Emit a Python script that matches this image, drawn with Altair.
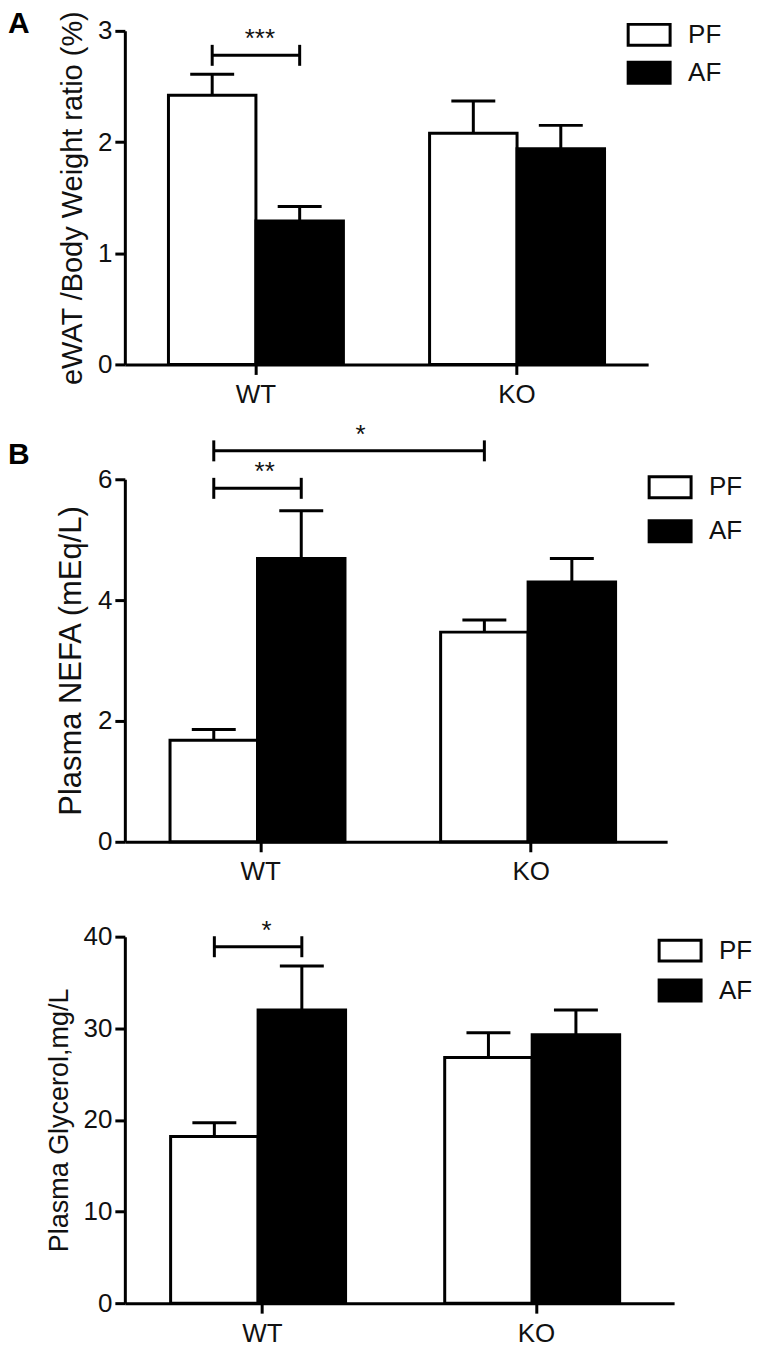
import altair as alt
import pandas as pd

FONT = "Liberation Sans"

groups = ["WT", "KO"]
treatments = ["PF", "AF"]

# Panel A: eWAT / body weight ratio (%)
a_pf_mean = [2.42, 2.08]
a_pf_sem = [0.19, 0.29]
a_af_mean = [1.29, 1.94]
a_af_sem = [0.13, 0.21]
a_brackets = [("WT", "PF", "WT", "AF", 2.78, "***")]

# Panel B: Plasma NEFA (mEq/L)
b_pf_mean = [1.68, 3.47]
b_pf_sem = [0.18, 0.20]
b_af_mean = [4.69, 4.30]
b_af_sem = [0.79, 0.39]
b_brackets = [("WT", "PF", "WT", "AF", 5.85, "**"),
              ("WT", "PF", "KO", "PF", 6.47, "*")]

# Panel C: Plasma Glycerol, mg/L
c_pf_mean = [18.2, 26.8]
c_pf_sem = [1.5, 2.7]
c_af_mean = [32.0, 29.3]
c_af_sem = [4.8, 2.7]
c_brackets = [("WT", "PF", "WT", "AF", 38.9, "*")]


def panel(pf_mean, pf_sem, af_mean, af_sem, brackets, ymax, yticks, ytitle, tsize,
          width, height, lx, ly, lrow, title=None):
    rows = []
    for i, g in enumerate(groups):
        rows.append({"group": g, "treat": "PF", "mean": pf_mean[i], "sem": pf_sem[i]})
        rows.append({"group": g, "treat": "AF", "mean": af_mean[i], "sem": af_sem[i]})
    df = pd.DataFrame(rows)

    brows, trows = [], []
    for k, (g1, t1, g2, t2, lev, lab) in enumerate(brackets):
        brows.append({"bid": k, "group": g1, "treat": t1, "level": lev})
        brows.append({"bid": k, "group": g2, "treat": t2, "level": lev})
        trows.append({"bid": k, "group": g1, "level": lev, "label": lab,
                      "same": g1 == g2})
    bdf = pd.DataFrame(brows)
    tdf = pd.DataFrame(trows)

    X = alt.X("group:N", sort=groups,
              scale=alt.Scale(domain=groups, paddingInner=0.33, paddingOuter=0.167),
              axis=alt.Axis(title=None, labelAngle=0, labelPadding=7))
    XO = alt.XOffset("treat:N", sort=treatments,
                     scale=alt.Scale(domain=treatments, paddingInner=0, paddingOuter=0))
    yscale = alt.Scale(domain=[0, ymax], nice=False)
    Y = alt.Y("mean:Q", scale=yscale,
              axis=alt.Axis(values=yticks, format="d", title=ytitle,
                            titleFontSize=tsize, labelPadding=3, titlePadding=10))

    base = alt.Chart(df).transform_calculate(hi="datum.mean + datum.sem")

    bars = base.mark_bar(stroke="black", strokeWidth=3).encode(
        x=X, xOffset=XO, y=Y,
        fill=alt.Fill("treat:N", sort=treatments,
                      scale=alt.Scale(domain=treatments, range=["white", "black"]),
                      legend=alt.Legend(orient="none", legendX=lx, legendY=ly,
                                        title=None, padding=0,
                                        symbolType="M-2,-1H2V1H-2Z", symbolSize=441,
                                        symbolStrokeColor="black", symbolStrokeWidth=3,
                                        labelFont=FONT, labelFontSize=26,
                                        labelColor="#111", labelOffset=26,
                                        rowPadding=lrow)))
    err = base.mark_rule(color="black", strokeWidth=3).encode(
        x=X, xOffset=XO, y=alt.Y("mean:Q", scale=yscale), y2="hi:Q")
    cap = base.mark_tick(color="black", size=44, thickness=3, opacity=1).encode(
        x=X, xOffset=XO, y=alt.Y("hi:Q", scale=yscale))

    bline = alt.Chart(bdf).mark_line(color="black", strokeWidth=3).encode(
        x=X, xOffset=XO, y=alt.Y("level:Q", scale=yscale), detail="bid:N")
    bends = alt.Chart(bdf).mark_point(shape="M0,-1L0,1", size=441, filled=False,
                                      color="black", strokeWidth=3, opacity=1).encode(
        x=X, xOffset=XO, y=alt.Y("level:Q", scale=yscale))

    layers = [bars, err, cap, bline, bends]
    short = tdf[tdf["same"]]
    long_ = tdf[~tdf["same"]]
    if len(short):
        layers.append(alt.Chart(short).mark_text(
            font=FONT, fontSize=26, color="#111", baseline="alphabetic", dy=-8, dx=4).encode(
            x=X, y=alt.Y("level:Q", scale=yscale), text="label:N"))
    if len(long_):
        layers.append(alt.Chart(long_).mark_text(
            font=FONT, fontSize=26, color="#111", baseline="alphabetic", dy=-8, dx=100).encode(
            x=X, y=alt.Y("level:Q", scale=yscale), text="label:N"))

    ch = alt.layer(*layers).properties(width=width, height=height)
    if title is not None:
        ch = ch.properties(title=title)
    return ch


tA = alt.TitleParams("A", anchor="start", frame="group", font=FONT, fontSize=30,
                     fontWeight="bold", color="black", dx=-117, dy=29, offset=0)
tB = alt.TitleParams("B", anchor="start", frame="group", font=FONT, fontSize=30,
                     fontWeight="bold", color="black", dx=-117, dy=48, offset=0)

pA = panel(a_pf_mean, a_pf_sem, a_af_mean, a_af_sem, a_brackets, 3, [0, 1, 2, 3],
           "eWAT /Body Weight ratio (%)", 29, 524, 334, 512, -9, 4, tA)
pB = panel(b_pf_mean, b_pf_sem, b_af_mean, b_af_sem, b_brackets, 6, [0, 2, 4, 6],
           "Plasma NEFA (mEq/L)", 31, 543, 363, 533, -5, 10, tB)
pC = panel(c_pf_mean, c_pf_sem, c_af_mean, c_af_sem, c_brackets, 40, [0, 10, 20, 30, 40],
           "Plasma Glycerol,mg/L", 27, 550, 367, 543, 1, 6)

res = dict(x="independent", y="independent", fill="independent")

inner = alt.vconcat(pB, pC, spacing=95, bounds="flush").resolve_scale(**res).resolve_legend(fill="independent")
chart = alt.vconcat(pA, inner, spacing=115, bounds="flush").resolve_scale(**res).resolve_legend(fill="independent")

chart = chart.properties(padding=0).configure_view(stroke=None).configure_axis(
    domainColor="black", domainWidth=3, tickColor="black", tickWidth=3, tickSize=10,
    labelFont=FONT, labelFontSize=26, labelColor="#111",
    titleFont=FONT, titleFontSize=29, titleFontWeight="normal", titleColor="#111",
    grid=False)

chart.save("out.html", embed_options={"renderer": "svg", "actions": False})
